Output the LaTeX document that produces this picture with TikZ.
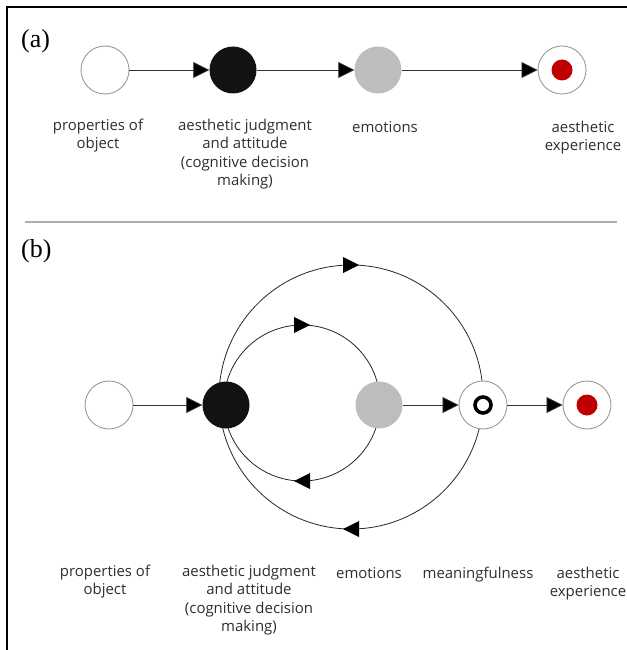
\documentclass[tikz,border=0pt]{standalone}
\usepackage{fontspec}
\setmainfont{Open Sans}
\newfontfamily\labelserif{Liberation Serif}
\usetikzlibrary{arrows.meta,decorations.markings}
\definecolor{ringgray}{HTML}{9A9A9A}
\definecolor{softgray}{HTML}{BDBDBD}
\definecolor{deepred}{HTML}{C00000}
\definecolor{textgray}{HTML}{2E2E2E}
\tikzset{
  x=1bp, y=-1bp,
  hollow/.style={circle, draw=ringgray, line width=0.9bp, fill=white, minimum size=48bp, inner sep=0pt},
  solid/.style={circle, fill=black!93, minimum size=47bp, inner sep=0pt},
  muted/.style={circle, fill=softgray, minimum size=47bp, inner sep=0pt},
  link/.style={draw=black!80, line width=0.8bp, -{Triangle[length=16bp,width=16bp,fill=black]}},
  loop/.style={draw=black!85, line width=0.8bp},
  midtip/.style={postaction={decorate}, decoration={markings,
      mark=at position #1 with {\fill[black] (8bp,0) -- (-8bp,-8bp) -- (-8bp,8bp) -- cycle;}}},
  caption/.style={align=center, font=\fontsize{15}{18.3}\selectfont, text=textgray, anchor=north, inner sep=0pt},
  panel/.style={font=\labelserif\fontsize{26}{26}\selectfont, anchor=west, inner sep=0pt}
}
\begin{document}
\begin{tikzpicture}
\useasboundingbox (0,0) rectangle (627,650);
% frame and separator
\draw[line width=2bp] (7,650) -- (7,7) -- (627,7);
\draw[ringgray!80, line width=1.5bp] (25,222) -- (617,222);

% ---------- panel (a) ----------
\node[panel] (la) at (21,41) {(a)};
\node[hollow] (a1) at (105,70) {};
\node[solid]  (a2) at (233,70) {};
\node[muted]  (a3) at (378,70) {};
\node[hollow] (a4) at (562,70) {};
\fill[deepred] (a4.center) circle (10.5bp);
\draw[link] (a1) -- (a2);
\draw[link] (a2) -- (a3);
\draw[link] (a3) -- (a4);

\node[caption] (ta1) at (98,119) {properties of\\object};
\node[caption] (ta2) at (245,119) {aesthetic judgment\\and attitude\\(cognitive decision\\making)};
\node[caption] (ta3) at (385,121) {emotions};
\node[caption] (ta4) at (583,121) {aesthetic\\experience};

% ---------- panel (b) ----------
\node[panel] (lb) at (21,251) {(b)};
\node[hollow] (b1) at (109,405) {};

% feedback loops through the judgment node
\coordinate (oc) at (351,397);
\coordinate (ic) at (302,403);
\draw[loop, midtip=0.5] ([shift={(180:132bp)}]oc) arc[start angle=180, end angle=0, radius=132bp];
\draw[loop, midtip=0.5] ([shift={(0:132bp)}]oc) arc[start angle=0, end angle=-180, radius=132bp];
\draw[loop, midtip=0.5] ([shift={(180:78bp)}]ic) arc[start angle=180, end angle=0, radius=78bp];
\draw[loop, midtip=0.5] ([shift={(0:78bp)}]ic) arc[start angle=0, end angle=-180, radius=78bp];

% nodes sit on top of the loops
\node[solid]  (b2) at (226,405) {};
\node[muted]  (b3) at (379,405) {};
\node[hollow] (b4) at (483,405) {};
\node[hollow] (b5) at (587,405) {};
\draw[line width=3.6bp] (b4.center) circle (8bp);
\fill[deepred] (b5.center) circle (10.5bp);

\draw[link] (b1) -- (b2);
\draw[link] (b3) -- (b4);
\draw[link] (b4) -- (b5);

\node[caption] (tb1) at (105,565) {properties of\\object};
\node[caption] (tb2) at (249,565) {aesthetic judgment\\and attitude\\(cognitive decision\\making)};
\node[caption] (tb3) at (369,567) {emotions};
\node[caption] (tb4) at (478,567) {meaningfulness};
\node[caption] (tb5) at (588,567) {aesthetic\\experience};
\end{tikzpicture}
\end{document}
